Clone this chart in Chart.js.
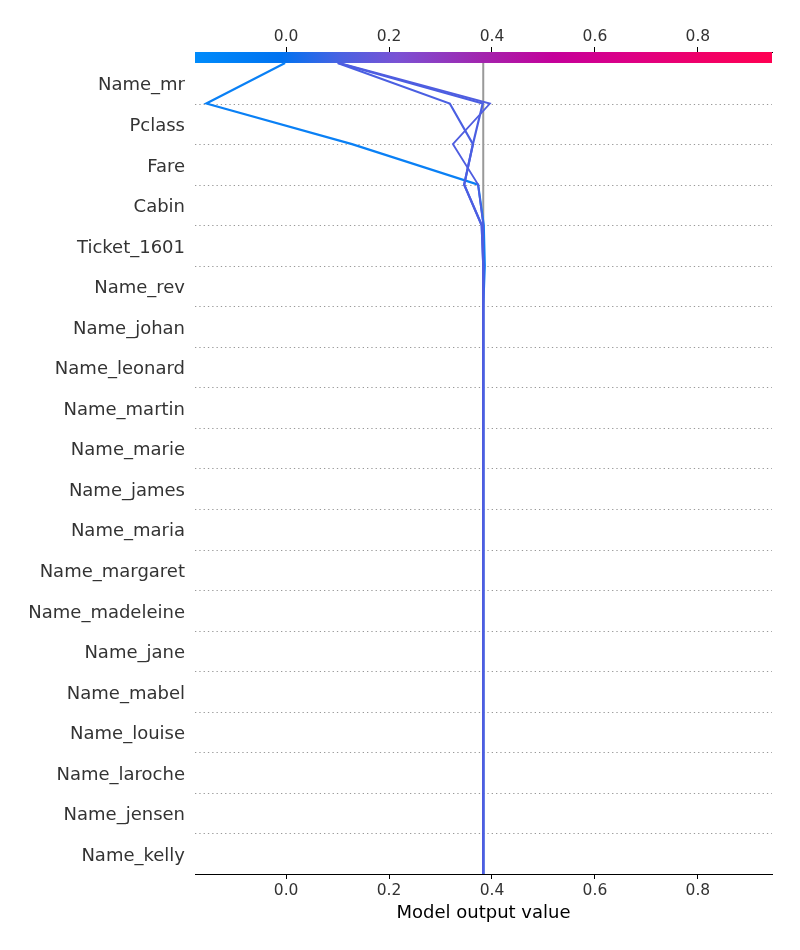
<!DOCTYPE html>
<html><head><meta charset="utf-8">
<script src="https://cdn.jsdelivr.net/npm/chart.js@4.4.1/dist/chart.umd.min.js"></script>
<style>html,body{margin:0;padding:0;background:#fff;}canvas{display:block;}</style>
</head><body>
<canvas id="c" width="800" height="950"></canvas>
<script>
// Features, top to bottom
const features = ['Name_mr','Pclass','Fare','Cabin','Ticket_1601','Name_rev','Name_johan','Name_leonard','Name_martin','Name_marie','Name_james','Name_maria','Name_margaret','Name_madeleine','Name_jane','Name_mabel','Name_louise','Name_laroche','Name_jensen','Name_kelly'];
const baseValue = 0.383;
const tickValues = [0.0, 0.2, 0.4, 0.6, 0.8];
const xMin = -0.177, xMax = 0.944;
// Model output after each feature's contribution (same order as features, top to bottom)
const obsA = [-0.002,-0.155,0.128,0.373,0.384,0.386,0.383,0.383,0.383,0.383,0.383,0.383,0.383,0.383,0.383,0.383,0.383,0.383,0.383,0.383];
const obsB = [0.100,0.318,0.363,0.346,0.380,0.384,0.383,0.383,0.383,0.383,0.383,0.383,0.383,0.383,0.383,0.383,0.383,0.383,0.383,0.383];
const obsC = [0.101,0.382,0.363,0.346,0.380,0.384,0.383,0.383,0.383,0.383,0.383,0.383,0.383,0.383,0.383,0.383,0.383,0.383,0.383,0.383];
const obsD = [0.103,0.396,0.324,0.373,0.383,0.384,0.383,0.383,0.383,0.383,0.383,0.383,0.383,0.383,0.383,0.383,0.383,0.383,0.383,0.383];

const nF = features.length;
function path(arr){
  const pts = [{x: baseValue, y: 0}];
  for (let k = nF - 1; k >= 0; k--) pts.push({x: arr[k], y: nF - k});
  return pts;
}
const lineDs = (arr, color, w) => ({data: path(arr), borderColor: color, borderWidth: w, pointRadius: 0, tension: 0, fill: false});

const gradStops = [[0,'#008bfb'],[0.15,'#0072f0'],[0.25,'#4862e2'],[0.35,'#7a52d4'],[0.5,'#a323ad'],[0.62,'#c4009a'],[0.75,'#dc0086'],[0.88,'#f00068'],[1,'#ff0052']];

const decorPlugin = {
  id: 'decor',
  beforeDatasetsDraw(chart){
    const {ctx, chartArea: a, scales: {x, y}} = chart;
    ctx.save();
    const yb = y.getPixelForValue(nF);
    const g = ctx.createLinearGradient(a.left, 0, a.right, 0);
    gradStops.forEach(s => g.addColorStop(s[0], s[1]));
    ctx.fillStyle = g;
    ctx.fillRect(a.left, a.top, a.right - a.left, yb - a.top);
    ctx.strokeStyle = '#999999';
    ctx.lineWidth = 1;
    ctx.setLineDash([1.3, 3]);
    for (let i = 1; i < nF; i++){
      const py = Math.round(y.getPixelForValue(i)) + 0.5;
      ctx.beginPath(); ctx.moveTo(a.left, py); ctx.lineTo(a.right, py); ctx.stroke();
    }
    ctx.restore();
  }
};

const tickFont = {family: 'DejaVu Sans', size: 15.5};
new Chart(document.getElementById('c'), {
  type: 'line',
  data: {
    datasets: [
      lineDs(obsD, '#4f5de0', 1.8),
      lineDs(obsC, '#4b5ee2', 2.2),
      lineDs(obsB, '#4a5fe2', 2.2),
      lineDs(obsA, '#0a80f5', 2.2),
      {data: [{x: baseValue, y: 0}, {x: baseValue, y: nF}], borderColor: '#999999', borderWidth: 2, pointRadius: 0}
    ]
  },
  options: {
    responsive: false,
    animation: false,
    layout: {padding: {left: 0, right: 28, top: 0, bottom: 0}},
    plugins: {legend: {display: false}, tooltip: {enabled: false}},
    scales: {
      x: {
        type: 'linear', position: 'bottom', min: xMin, max: xMax,
        afterBuildTicks: s => { s.ticks = tickValues.map(v => ({value: v})); },
        afterFit: s => { s.height = 76; },
        ticks: {font: tickFont, color: '#333333', padding: 3, callback: v => v.toFixed(1), maxRotation: 0},
        grid: {display: true, drawOnChartArea: false, drawTicks: true, tickLength: 5, color: '#000'},
        border: {display: true, color: '#000', width: 1},
        title: {display: true, text: 'Model output value', color: '#000', font: {family: 'DejaVu Sans', size: 18}, padding: {top: 0, bottom: 26}}
      },
      x2: {
        type: 'linear', position: 'top', min: xMin, max: xMax,
        afterBuildTicks: s => { s.ticks = tickValues.map(v => ({value: v})); },
        afterFit: s => { s.height = 52; },
        ticks: {font: tickFont, color: '#333333', padding: 1, callback: v => v.toFixed(1), maxRotation: 0},
        grid: {display: true, drawOnChartArea: false, drawTicks: true, tickLength: 5, color: '#000'},
        border: {display: true, color: '#000', width: 1}
      },
      y: {
        type: 'linear', position: 'left', min: 0, max: nF + 0.271,
        afterBuildTicks: s => { s.ticks = features.map((f, k) => ({value: nF - k - 0.5})); },
        afterFit: s => { s.width = 195; },
        ticks: {font: {family: 'DejaVu Sans', size: 18}, color: '#333333', padding: 10, labelOffset: 2.5,
          callback: v => features[Math.round(nF - 0.5 - v)]},
        grid: {display: false, drawTicks: false},
        border: {display: false}
      }
    }
  },
  plugins: [decorPlugin]
});
</script>
</body></html>
